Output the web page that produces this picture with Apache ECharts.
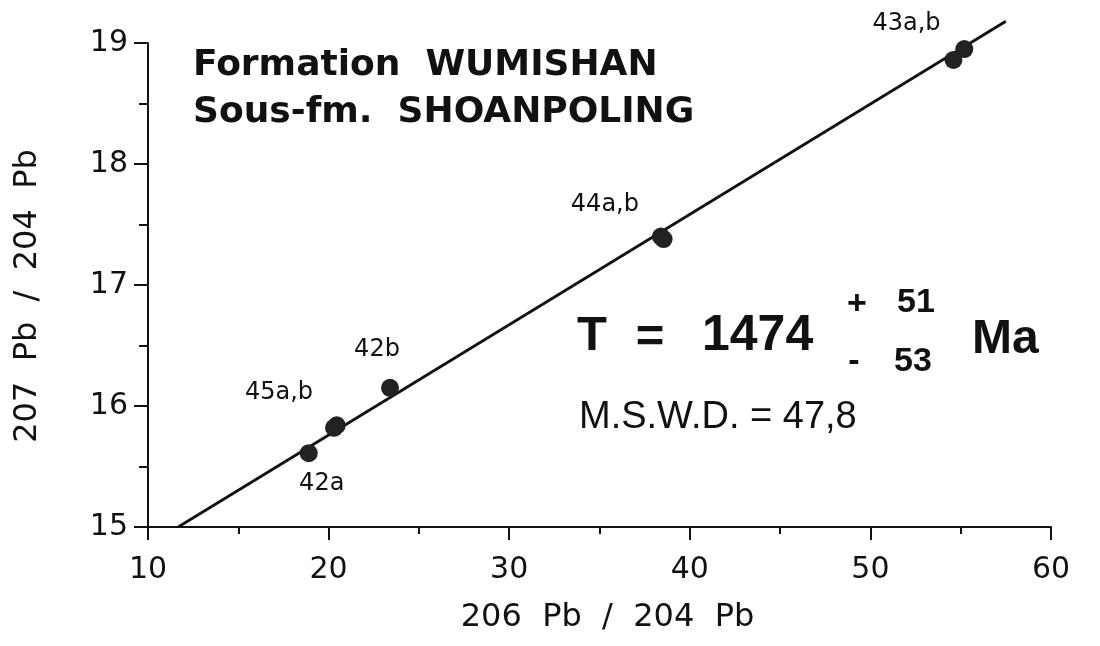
<!DOCTYPE html>
<html>
<head>
<meta charset="utf-8">
<script src="https://cdn.jsdelivr.net/npm/echarts@6/dist/echarts.min.js"></script>
<style>
html,body{margin:0;padding:0;background:#fff;}
#chart{width:1100px;height:646px;}
</style>
</head>
<body>
<div id="chart"></div>
<script>
// ---- data ----
var xTicks = [10, 20, 30, 40, 50, 60];
var yTicks = [15, 16, 17, 18, 19];
var sampleNames = ['42a', '45a', '45b', '42b', '44a', '44b', '43a', '43b'];
var pb206_204 = [18.9, 20.3, 20.45, 23.4, 38.4, 38.55, 54.6, 55.2];
var pb207_204 = [15.61, 15.82, 15.84, 16.15, 17.40, 17.38, 18.86, 18.95];
var labelText = ['42a', '45a,b', '', '42b', '44a,b', '', '43a,b', ''];
var isochronX = [11.67, 57.5];
var isochronY = [15.0, 19.18];

var labelOffsets = {
  '42a': [13, 31],
  '45a': [-55, -35],
  '42b': [-13, -38],
  '44a': [-56, -32],
  '43a': [-47, -36]
};

var pointData = sampleNames.map(function (n, i) {
  var item = { name: n, value: [pb206_204[i], pb207_204[i]] };
  if (labelText[i]) {
    item.label = { show: true, formatter: labelText[i], position: 'inside', offset: labelOffsets[n],
                   color: '#111', fontFamily: 'DejaVu Sans', fontSize: 24 };
  }
  return item;
});
var lineData = isochronX.map(function (x, i) { return [x, isochronY[i]]; });

var chart = echarts.init(document.getElementById('chart'), null, { renderer: 'canvas' });
var axisColor = '#111';
var option = {
  animation: false,
  backgroundColor: '#fff',
  grid: { left: 148, right: 49, top: 43, bottom: 119, containLabel: false },
  xAxis: {
    type: 'value', min: xTicks[0], max: xTicks[xTicks.length - 1], interval: 10,
    name: '206  Pb  /  204  Pb', nameLocation: 'middle', nameGap: 75,
    nameTextStyle: { fontFamily: 'DejaVu Sans', fontSize: 32, color: axisColor, padding: [0, 0, 0, 16] },
    axisLine: { show: true, lineStyle: { color: axisColor, width: 2 } },
    axisTick: { show: true, inside: false, length: 13, lineStyle: { color: axisColor, width: 2 } },
    minorTick: { show: true, splitNumber: 2, length: 7, lineStyle: { color: axisColor, width: 2 } },
    splitLine: { show: false },
    axisLabel: { fontFamily: 'DejaVu Sans', fontSize: 30, color: axisColor, margin: 28 }
  },
  yAxis: {
    type: 'value', min: yTicks[0], max: yTicks[yTicks.length - 1], interval: 1,
    name: '207  Pb  /  204  Pb', nameLocation: 'middle', nameGap: 104,
    nameTextStyle: { fontFamily: 'DejaVu Sans', fontSize: 32, color: axisColor, padding: [0, 22, 0, 0] },
    axisLine: { show: true, lineStyle: { color: axisColor, width: 2 } },
    axisTick: { show: true, inside: false, length: 14, lineStyle: { color: axisColor, width: 2 } },
    minorTick: { show: true, splitNumber: 2, length: 9, lineStyle: { color: axisColor, width: 2 } },
    splitLine: { show: false },
    axisLabel: { fontFamily: 'DejaVu Sans', fontSize: 30, color: axisColor, margin: 20 }
  },
  series: [
    {
      type: 'line', data: lineData, symbol: 'none', clip: false, z: 2,
      lineStyle: { color: '#111', width: 2.8 }
    },
    {
      type: 'scatter', data: pointData, symbol: 'circle', symbolSize: 18, clip: false, z: 3,
      itemStyle: { color: '#222', opacity: 1 },
      label: { show: false, fontFamily: 'DejaVu Sans', fontSize: 24, color: '#111' }
    }
  ],
  graphic: [
    { type: 'text', x: 193, y: 66, style: { text: 'Formation  WUMISHAN', font: 'bold 36px "DejaVu Sans"', fill: '#111', align: 'left', verticalAlign: 'middle', textAlign: 'left', textVerticalAlign: 'middle' } },
    { type: 'text', x: 193, y: 113, style: { text: 'Sous-fm.  SHOANPOLING', font: 'bold 36px "DejaVu Sans"', fill: '#111', align: 'left', verticalAlign: 'middle', textAlign: 'left', textVerticalAlign: 'middle' } },
    { type: 'text', x: 577, y: 336, style: { text: 'T', font: 'bold 49px "Liberation Sans"', fill: '#111', align: 'left', verticalAlign: 'middle', textAlign: 'left', textVerticalAlign: 'middle' } },
    { type: 'text', x: 650, y: 338, style: { text: '=', font: 'bold 49px "Liberation Sans"', fill: '#111', align: 'center', verticalAlign: 'middle', textAlign: 'center', textVerticalAlign: 'middle' } },
    { type: 'text', x: 702, y: 336, style: { text: '1474', font: 'bold 50px "Liberation Sans"', fill: '#111', align: 'left', verticalAlign: 'middle', textAlign: 'left', textVerticalAlign: 'middle' } },
    { type: 'text', x: 857, y: 305, style: { text: '+', font: 'bold 34px "Liberation Sans"', fill: '#111', align: 'center', verticalAlign: 'middle', textAlign: 'center', textVerticalAlign: 'middle' } },
    { type: 'text', x: 897, y: 303, style: { text: '51', font: 'bold 34px "Liberation Sans"', fill: '#111', align: 'left', verticalAlign: 'middle', textAlign: 'left', textVerticalAlign: 'middle' } },
    { type: 'text', x: 854, y: 362, style: { text: '-', font: 'bold 34px "Liberation Sans"', fill: '#111', align: 'center', verticalAlign: 'middle', textAlign: 'center', textVerticalAlign: 'middle' } },
    { type: 'text', x: 894, y: 362, style: { text: '53', font: 'bold 34px "Liberation Sans"', fill: '#111', align: 'left', verticalAlign: 'middle', textAlign: 'left', textVerticalAlign: 'middle' } },
    { type: 'text', x: 972, y: 340, style: { text: 'Ma', font: 'bold 48px "Liberation Sans"', fill: '#111', align: 'left', verticalAlign: 'middle', textAlign: 'left', textVerticalAlign: 'middle' } },
    { type: 'text', x: 579, y: 418, style: { text: 'M.S.W.D. = 47,8', font: '38px "Liberation Sans"', fill: '#111', align: 'left', verticalAlign: 'middle', textAlign: 'left', textVerticalAlign: 'middle' } }
  ]
};
chart.setOption(option);
</script>
</body>
</html>
